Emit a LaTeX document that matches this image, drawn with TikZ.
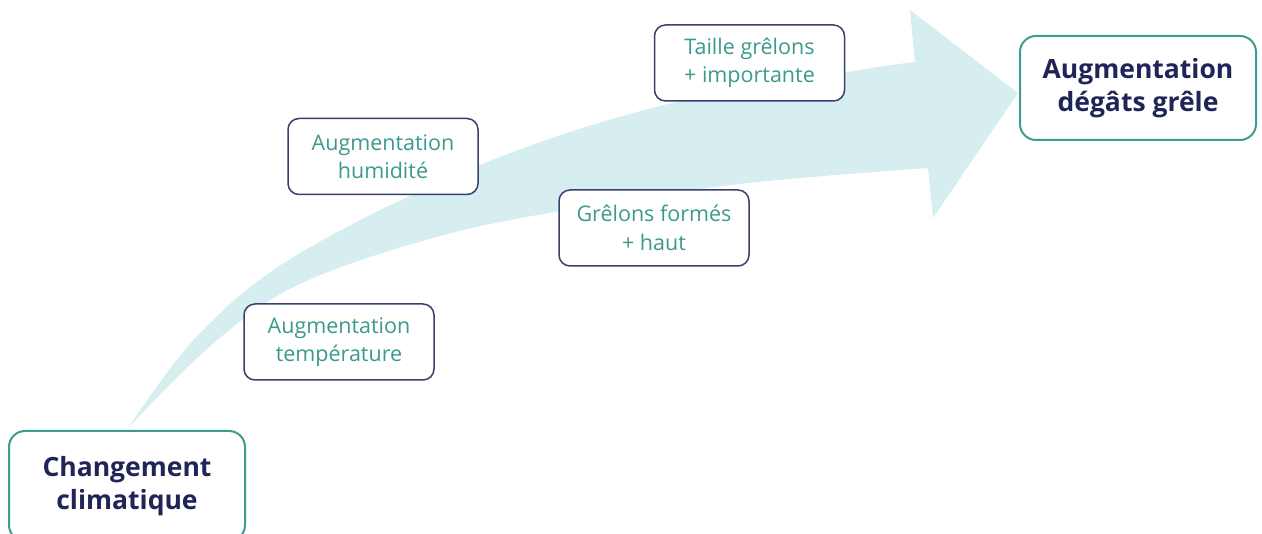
\documentclass[tikz,border=0pt]{standalone}
\usepackage{fontspec}
\setmainfont{Open Sans}
\definecolor{arrowfill}{HTML}{D6EEF0}
\definecolor{navy}{HTML}{1F2556}
\definecolor{teal}{HTML}{3A9A8C}
\definecolor{tealborder}{HTML}{3E9C8F}
\definecolor{navyborder}{HTML}{3A3F6B}
\tikzset{
  smallbox/.style={draw=navyborder, line width=1.5pt, rounded corners=11pt, fill=white,
    minimum width=190pt, minimum height=76pt, align=center, text=teal, inner sep=0pt,
    font=\fontsize{21.5}{28.5}\selectfont},
  bigbox/.style={draw=tealborder, line width=2pt, rounded corners=16pt, fill=white,
    minimum width=236pt, align=center, text=navy, inner sep=0pt,
    font=\fontsize{26.5}{33}\selectfont\bfseries},
}
\begin{document}
\begin{tikzpicture}[x=1pt,y=-1pt]
\useasboundingbox (0,0) rectangle (1262,534);
\clip (0,0) rectangle (1262,534);
% curved arrow
\fill[arrowfill] plot[smooth,tension=0.6] coordinates {(128,428) (200,333) (300,253) (480,165) (660,106) (847,72) (915,62)}
  -- (910,10) -- (1018,93) -- (933,218) -- (928,168)
  -- plot[smooth,tension=0.6] coordinates {(928,168) (740,184) (560,211) (433,238) (300,284) (215,342) (128,428)} -- cycle;
% main boxes
\node[bigbox, minimum height=110pt] (chg) at (127,486) {Changement\\climatique};
\node[bigbox, minimum height=104pt] (grele) at (1138,88) {Augmentation\\dégâts grêle};
% intermediate boxes
\node[smallbox] (temp) at (339,342) {Augmentation\\température};
\node[smallbox] (humid) at (383,156.5) {Augmentation\\humidité};
\node[smallbox] (formes) at (654,228) {Grêlons formés\\+ haut};
\node[smallbox] (taille) at (749.5,63) {Taille grêlons\\+ importante};
\end{tikzpicture}
\end{document}
